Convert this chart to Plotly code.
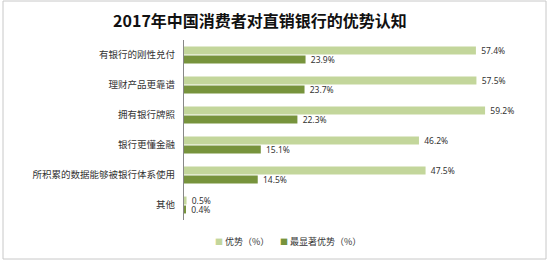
import plotly.graph_objects as go

categories = ["有银行的刚性兑付", "理财产品更靠谱", "拥有银行牌照", "银行更懂金融",
              "所积累的数据能够被银行体系使用", "其他"]
advantage = [57.4, 57.5, 59.2, 46.2, 47.5, 0.5]
top_advantage = [23.9, 23.7, 22.3, 15.1, 14.5, 0.4]
series_names = ["优势（%）", "最显著优势（%）"]
colors = ["#C3D69B", "#77933C"]

W, H = 550, 262
L, R, T, B = 184, 10, 40, 42
pw, ph = W - L - R, H - T - B

fig = go.Figure()
for vals, name, c in zip([advantage, top_advantage], series_names, colors):
    fig.add_trace(go.Bar(
        y=categories, x=vals, orientation="h", name=name,
        marker=dict(color=c, line=dict(width=0)),
        text=[f" {v:.1f}%" for v in vals], textposition="outside",
        constraintext="none",
        textfont=dict(family="Noto Sans, DejaVu Sans", size=8.5, color="#333333"),
        cliponaxis=False, showlegend=False,
    ))

def px_x(p):
    return (p - L) / pw

def px_y(p):
    return (H - B - p) / ph

# legend built from series names/colors
leg_x = [213, 278]
for xpos, name, c in zip(leg_x, series_names, colors):
    fig.add_annotation(
        x=px_x(xpos), y=px_y(241), xref="paper", yref="paper",
        xanchor="left", yanchor="middle", showarrow=False,
        text=f"<span style='color:{c};font-size:8px'>■</span> {name}",
        font=dict(family="Noto Sans CJK SC", size=9, color="#333333"),
    )

fig.add_shape(type="rect", xref="paper", yref="paper",
              x0=px_x(3), x1=px_x(546), y0=px_y(259), y1=px_y(1),
              line=dict(color="#C8C8C8", width=1))

fig.update_layout(
    width=W, height=H,
    margin=dict(l=L, r=R, t=T, b=B),
    paper_bgcolor="white", plot_bgcolor="white",
    barmode="group", bargap=0.4, bargroupgap=0.12,
    uniformtext=dict(mode=False),
    title=dict(text="<b>2017年中国消费者对直销银行的优势认知</b>",
               x=260 / W, xanchor="center", xref="container",
               y=1 - 21 / H, yanchor="middle",
               font=dict(family="Noto Sans CJK SC", size=16, color="#111111")),
    xaxis=dict(range=[0, 70], visible=False, showgrid=False, zeroline=False),
    yaxis=dict(autorange="reversed", showgrid=False, zeroline=False,
               showline=True, linecolor="#888888", linewidth=1,
               ticks="", ticklabelstandoff=6,
               tickfont=dict(family="Noto Sans CJK SC", size=9.5, color="#333333")),
)

fig.write_html("out.html")
